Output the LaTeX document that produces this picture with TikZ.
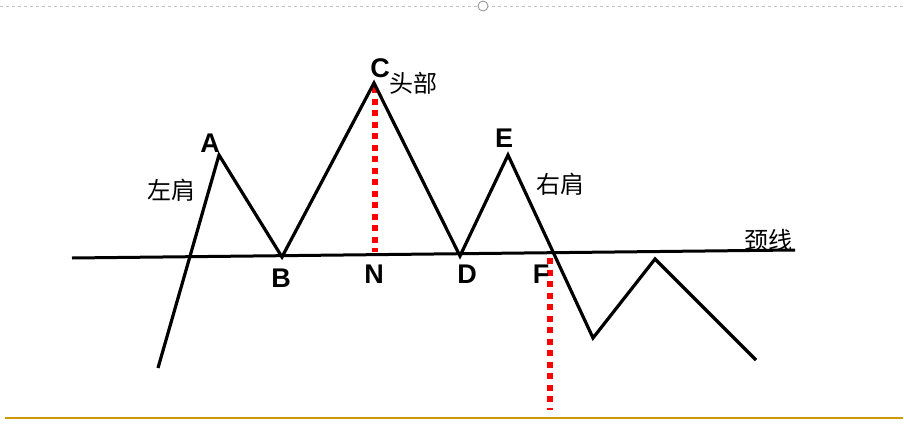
\documentclass[tikz,border=0pt]{standalone}
\usepackage{fontspec}
\setsansfont{Liberation Sans}
\newfontfamily\cjk{Noto Sans CJK SC}
\begin{document}
\begin{tikzpicture}[x=1pt,y=-1pt,
  ptlabel/.style={font=\sffamily\bfseries\fontsize{27}{27}\selectfont,inner sep=0pt},
  cnlabel/.style={font=\cjk\fontsize{24}{24}\selectfont,inner sep=0pt},
  zig/.style={line width=3.2pt,line join=miter},
  reddot/.style={red,line width=5.5pt,dash pattern=on 6pt off 5.5pt}]
\useasboundingbox (0,0) rectangle (904,423);
% top guide
\draw[gray!50,line width=0.8pt,dash pattern=on 3pt off 3pt] (0,6) -- (904,6);
\node[draw=gray!80,fill=white,circle,minimum size=10pt,inner sep=0pt,line width=0.9pt] (hdl) at (483,6) {};
% bottom gold line
\draw[color={rgb,255:red,204;green,153;blue,0},line width=2.5pt] (5,418) -- (903,418);
% points
\coordinate (S) at (158,368);
\coordinate (A) at (219,155);
\coordinate (B) at (282,257);
\coordinate (C) at (374,83);
\coordinate (D) at (460,256);
\coordinate (E) at (508,155);
\coordinate (G) at (593,338);
\coordinate (H) at (655,259);
\coordinate (K) at (756,360);
\coordinate (N) at (375,252);
\coordinate (F) at (550,258);
\coordinate (Fb) at (550,410);
\coordinate (Ct) at (375,87);
\coordinate (L1) at (72,258);
\coordinate (L2) at (795,250);
% red dotted lines
\draw[reddot] (Ct) -- (N);
\draw[reddot] (F) -- (Fb);
% neckline
\draw[line width=3pt] (L1) -- (L2);
% zigzag
\draw[zig] (S) -- (A) -- (B) -- (C) -- (D) -- (E) -- (G) -- (H) -- (K);
% labels
\node[ptlabel] (lA) at (210,143) {A};
\node[ptlabel] (lB) at (281,278) {B};
\node[ptlabel] (lC) at (380,68) {C};
\node[ptlabel] (lN) at (374,274) {N};
\node[ptlabel] (lD) at (467,274) {D};
\node[ptlabel] (lE) at (504,138) {E};
\node[ptlabel] (lF) at (541,274) {F};
\node[cnlabel] (t1) at (171,190) {左肩};
\node[cnlabel] (t2) at (413,83) {头部};
\node[cnlabel] (t3) at (560,184) {右肩};
\node[cnlabel] (t4) at (768,240) {颈线};
\end{tikzpicture}
\end{document}
